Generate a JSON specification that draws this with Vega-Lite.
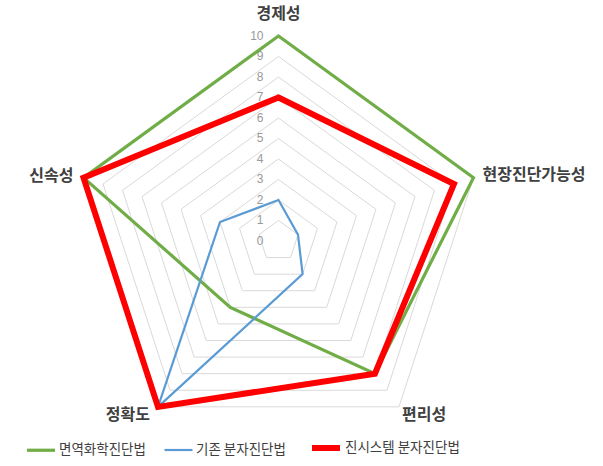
{
  "$schema": "https://vega.github.io/schema/vega-lite/v6.json",
  "width": 603,
  "height": 466,
  "autosize": "none",
  "padding": 0,
  "config": {
    "view": {"stroke": null},
    "font": "Noto Sans CJK KR"
  },
  "datasets": {
    "scores": [
      {"series": "면역화학진단법", "axis": "경제성", "k": 0, "value": 10},
      {"series": "면역화학진단법", "axis": "현장진단가능성", "k": 1, "value": 10},
      {"series": "면역화학진단법", "axis": "편리성", "k": 2, "value": 8},
      {"series": "면역화학진단법", "axis": "정확도", "k": 3, "value": 4},
      {"series": "면역화학진단법", "axis": "신속성", "k": 4, "value": 10},
      {"series": "기존 분자진단법", "axis": "경제성", "k": 0, "value": 2},
      {"series": "기존 분자진단법", "axis": "현장진단가능성", "k": 1, "value": 1},
      {"series": "기존 분자진단법", "axis": "편리성", "k": 2, "value": 2},
      {"series": "기존 분자진단법", "axis": "정확도", "k": 3, "value": 10},
      {"series": "기존 분자진단법", "axis": "신속성", "k": 4, "value": 3},
      {"series": "진시스템 분자진단법", "axis": "경제성", "k": 0, "value": 7},
      {"series": "진시스템 분자진단법", "axis": "현장진단가능성", "k": 1, "value": 9},
      {"series": "진시스템 분자진단법", "axis": "편리성", "k": 2, "value": 8},
      {"series": "진시스템 분자진단법", "axis": "정확도", "k": 3, "value": 10},
      {"series": "진시스템 분자진단법", "axis": "신속성", "k": 4, "value": 10}
    ],
    "levels": [
      {"level": 0}, {"level": 1}, {"level": 2}, {"level": 3}, {"level": 4}, {"level": 5},
      {"level": 6}, {"level": 7}, {"level": 8}, {"level": 9}, {"level": 10}
    ],
    "axes": [
      {"axis": "경제성", "k": 0},
      {"axis": "현장진단가능성", "k": 1},
      {"axis": "편리성", "k": 2},
      {"axis": "정확도", "k": 3},
      {"axis": "신속성", "k": 4}
    ]
  },
  "layer": [
    {
      "data": {"name": "levels"},
      "transform": [
        {"filter": "datum.level > 0"},
        {"calculate": "[0, 1, 2, 3, 4, 5]", "as": "pos"},
        {"flatten": ["pos"]},
        {"calculate": "datum.level * sin(datum.pos * 2 * PI / 5)", "as": "x"},
        {"calculate": "datum.level * cos(datum.pos * 2 * PI / 5)", "as": "y"}
      ],
      "mark": {"type": "line", "stroke": "#D9D9D9", "strokeWidth": 1},
      "encoding": {
        "x": {"field": "x", "type": "quantitative", "axis": null,
              "scale": {"domain": [-13.585, 15.829], "nice": false, "zero": false}},
        "y": {"field": "y", "type": "quantitative", "axis": null,
              "scale": {"domain": [-10.976, 11.756], "nice": false, "zero": false}},
        "detail": {"field": "level", "type": "nominal"},
        "order": {"field": "pos", "type": "quantitative"}
      }
    },
    {
      "data": {"name": "levels"},
      "transform": [
        {"calculate": "0", "as": "x"},
        {"calculate": "datum.level", "as": "y"}
      ],
      "mark": {"type": "text", "align": "right", "baseline": "middle", "dx": -15,
               "fontSize": 12, "color": "#999999", "font": "Liberation Sans"},
      "encoding": {
        "x": {"field": "x", "type": "quantitative"},
        "y": {"field": "y", "type": "quantitative"},
        "text": {"field": "level", "type": "quantitative"}
      }
    },
    {
      "data": {"name": "scores"},
      "transform": [
        {"calculate": "datum.k == 0 ? [0, 5] : [datum.k]", "as": "pos"},
        {"flatten": ["pos"]},
        {"calculate": "datum.value * sin(datum.pos * 2 * PI / 5)", "as": "x"},
        {"calculate": "datum.value * cos(datum.pos * 2 * PI / 5)", "as": "y"}
      ],
      "mark": {"type": "line", "strokeJoin": "miter", "strokeCap": "round"},
      "encoding": {
        "x": {"field": "x", "type": "quantitative"},
        "y": {"field": "y", "type": "quantitative"},
        "order": {"field": "pos", "type": "quantitative"},
        "strokeWidth": {
          "field": "series", "type": "ordinal", "title": null,
          "scale": {"type": "ordinal",
                    "domain": ["면역화학진단법", "기존 분자진단법", "진시스템 분자진단법"],
                    "range": [3.2, 2.2, 6]},
          "legend": {
            "orient": "none", "legendX": 25, "legendY": 431, "direction": "horizontal",
            "symbolType": "stroke", "symbolSize": 784, "labelFontSize": 13.5,
            "labelColor": "#404040", "columnPadding": 14, "labelOffset": 2,
            "labelFont": "Noto Sans CJK KR"
          }
        },
        "color": {
          "field": "series", "type": "nominal", "title": null,
          "scale": {"domain": ["면역화학진단법", "기존 분자진단법", "진시스템 분자진단법"],
                    "range": ["#70AD47", "#5B9BD5", "#FF0000"]},
          "legend": {
            "orient": "none", "legendX": 25, "legendY": 431, "direction": "horizontal",
            "symbolType": "stroke", "symbolSize": 784, "labelFontSize": 13.5,
            "labelColor": "#404040", "columnPadding": 14, "labelOffset": 2,
            "labelFont": "Noto Sans CJK KR"
          }
        }
      }
    },
    {
      "data": {"name": "axes"},
      "transform": [
        {"calculate": "10 * sin(datum.k * 2 * PI / 5)", "as": "x"},
        {"calculate": "10 * cos(datum.k * 2 * PI / 5)", "as": "y"}
      ],
      "mark": {
        "type": "text", "baseline": "middle", "fontSize": 16, "fontWeight": "bold",
        "color": "#404040",
        "align": {"expr": "datum.k == 0 ? 'center' : (datum.k <= 2 ? 'left' : 'right')"},
        "dx": {"expr": "[0, 9, 3, -8, -10][datum.k]"},
        "dy": {"expr": "[-22, -3, 8, 8, -2][datum.k]"}
      },
      "encoding": {
        "x": {"field": "x", "type": "quantitative"},
        "y": {"field": "y", "type": "quantitative"},
        "text": {"field": "axis", "type": "nominal"}
      }
    }
  ]
}
